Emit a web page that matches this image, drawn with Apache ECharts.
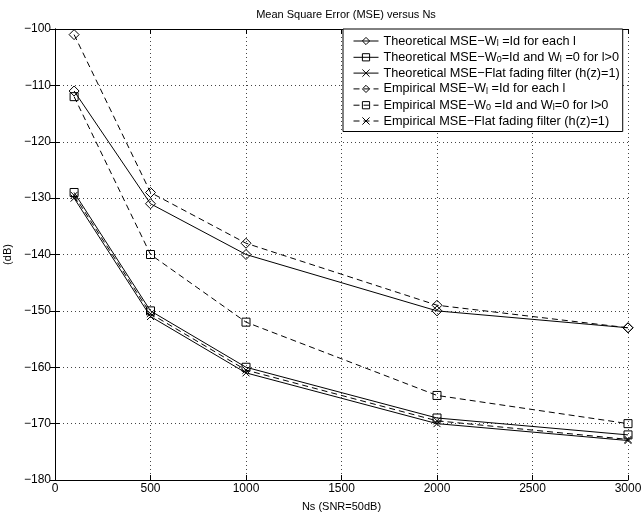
<!DOCTYPE html>
<html>
<head>
<meta charset="utf-8">
<script src="https://cdn.jsdelivr.net/npm/echarts@6/dist/echarts.min.js"></script>
<style>
	html, body { margin: 0; padding: 0; background: #fff; }
	#chart { width: 641px; height: 515px; }
</style>
</head>
<body>
<div id="chart"></div>
<script>
(function() {
	'use strict';

	var ns = [100, 500, 1000, 2000, 3000];

	var theoWl   = [-111, -131, -140, -150, -153];
	var theoW0   = [-129, -150, -160, -169, -172];
	var theoFlat = [-130, -151, -161, -170, -173];
	var empWl    = [-101, -129, -138, -149, -153];
	var empW0    = [-112, -140, -152, -165, -170];
	var empFlat  = [-129.5, -150.5, -160.5, -169.5, -172.8];

	var names = [
		"Theoretical MSE-Wl=Id for each l",
		"Theoretical MSE-W0=Id and Wl=0 for l>0",
		"Theoretical MSE-Flat fading filter",
		"Empirical MSE-Wl=Id for each l",
		"Empirical MSE-W0=Id and Wl=0 for l>0",
		"Empirical MSE-Flat fading filter"
	];

	var labels = [
		"Theoretical MSE\u2212W{s|l} =Id for each l",
		"Theoretical MSE\u2212W{s|0}=Id and W{s|l} =0 for l>0",
		"Theoretical MSE\u2212Flat fading filter (h(z)=1)",
		"Empirical MSE\u2212W{s|l} =Id for each l",
		"Empirical MSE\u2212W{s|0} =Id and W{s|l}=0 for l>0",
		"Empirical MSE\u2212Flat fading filter (h(z)=1)"
	];

	var cross = 'path://M0,0L10,10M10,0L0,10';

	var pair = function(ys) {
		var out = [];
		for (var i = 0; i < ns.length; i++) {
			out.push([ns[i], ys[i]]);
		}
		return out;
	};

	var makeSeries = function(idx, ys, symbol, size, dashed) {
		return {
			name: names[idx],
			type: 'line',
			data: pair(ys),
			symbol: symbol,
			symbolSize: size,
			showAllSymbol: true,
			animation: false,
			lineStyle: { color: '#000', width: 1, type: dashed ? [6, 4] : 'solid' },
			itemStyle: { color: 'rgba(255,255,255,0)', borderColor: '#000', borderWidth: 1 },
			emphasis: { disabled: true }
		};
	};

	var minus = function(v) {
		return String(v).replace('-', '\u2212');
	};

	var plain = function(v) {
		return String(v);
	};

	var font = 'Liberation Sans, Arial, Helvetica, sans-serif';

	var chart = echarts.init(document.getElementById('chart'));

	var axisCommon = {
		axisLine: { lineStyle: { color: '#000', width: 1 } },
		axisTick: { inside: true, length: 5, lineStyle: { color: '#000' } }
	};

	chart.setOption({
		animation: false,
		textStyle: { fontFamily: font },
		title: {
			text: 'Mean Square Error (MSE) versus Ns',
			left: 341,
			textAlign: 'center',
			top: 4,
			textStyle: { fontSize: 11, fontWeight: 'normal', color: '#000', fontFamily: font }
		},
		grid: { left: 55, right: 13, top: 29, bottom: 35, containLabel: false, outerBoundsMode: 'none' },
		legend: {
			orient: 'vertical',
			left: 343,
			top: 29,
			padding: [5, 3, 4, 10],
			itemGap: 2.3,
			itemWidth: 25,
			itemHeight: 9,
			backgroundColor: '#fff',
			borderColor: '#000',
			borderWidth: 1,
			borderRadius: 0,
			selectedMode: false,
			data: names,
			lineStyle: { width: 1 },
			itemStyle: { borderWidth: 1 },
			formatter: function(name) {
				return labels[names.indexOf(name)];
			},
			textStyle: {
				fontSize: 12.7,
				color: '#000',
				fontFamily: font,
				lineHeight: 13,
				rich: {
					s: { fontSize: 9, fontFamily: font, color: '#000', padding: [5, 0, 0, 0], lineHeight: 13 }
				}
			}
		},
		xAxis: [
			Object.assign({
				type: 'value',
				min: 0,
				max: 3000,
				interval: 500,
				name: 'Ns (SNR=50dB)',
				nameLocation: 'middle',
				nameGap: 21,
				nameTextStyle: { fontSize: 11, color: '#000', fontFamily: font },
				axisLabel: { fontSize: 12, color: '#000', margin: 3, fontFamily: font, formatter: plain },
				splitLine: { show: true, lineStyle: { color: '#444', width: 1, type: [1, 3] } }
			}, axisCommon),
			Object.assign({
				type: 'value',
				position: 'top',
				min: 0,
				max: 3000,
				interval: 500,
				axisLabel: { show: false },
				splitLine: { show: false }
			}, axisCommon)
		],
		yAxis: [
			Object.assign({
				type: 'value',
				min: -180,
				max: -100,
				interval: 10,
				name: '(dB)',
				nameLocation: 'middle',
				nameGap: 40,
				nameTextStyle: { fontSize: 11, color: '#000', fontFamily: font },
				axisLabel: { fontSize: 12, color: '#000', margin: 4, fontFamily: font, formatter: minus },
				splitLine: { show: true, lineStyle: { color: '#444', width: 1, type: [1, 3] } }
			}, axisCommon),
			Object.assign({
				type: 'value',
				position: 'right',
				min: -180,
				max: -100,
				interval: 10,
				axisLabel: { show: false },
				splitLine: { show: false }
			}, axisCommon)
		],
		series: [
			makeSeries(0, theoWl, 'diamond', 10, false),
			makeSeries(1, theoW0, 'rect', 8, false),
			makeSeries(2, theoFlat, cross, 7, false),
			makeSeries(3, empWl, 'diamond', 10, true),
			makeSeries(4, empW0, 'rect', 8, true),
			makeSeries(5, empFlat, cross, 7, true)
		]
	});
}());
</script>
</body>
</html>
